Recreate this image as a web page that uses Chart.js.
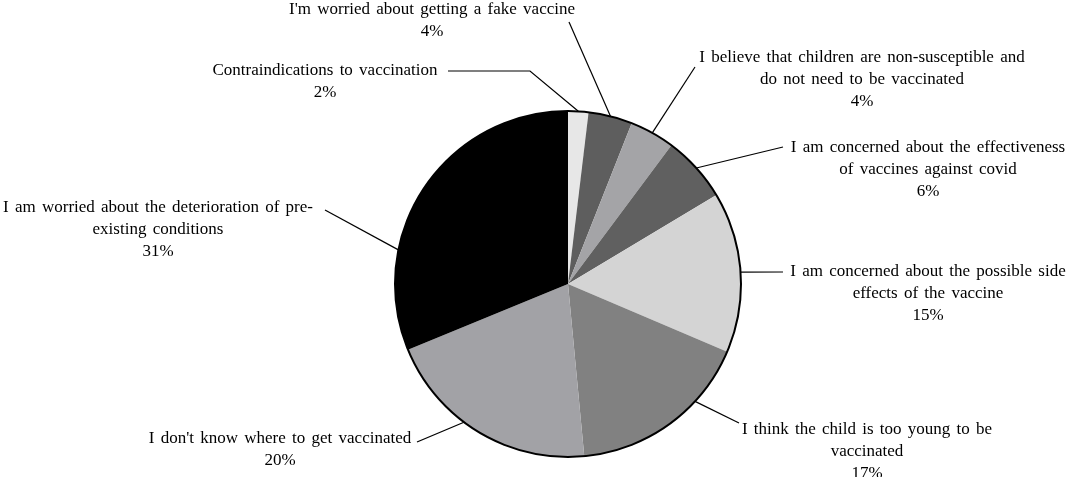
<!DOCTYPE html>
<html>
<head>
<meta charset="utf-8">
<script src="https://cdn.jsdelivr.net/npm/chart.js@4/dist/chart.umd.min.js"></script>
<style>
	html, body { margin: 0; padding: 0; background: #fff; }
	#wrap { width: 1069px; height: 477px; }
</style>
</head>
<body>
<div id="wrap"><canvas id="pie" width="1069" height="477"></canvas></div>
<script>
// categories (wrapped the way the figure wraps them)
var categories = [
	["Contraindications to vaccination"],
	["I'm worried about getting a fake vaccine"],
	["I believe that children are non-susceptible and", "do not need to be vaccinated"],
	["I am concerned about the effectiveness", "of vaccines against covid"],
	["I am concerned about the possible side", "effects of the vaccine"],
	["I think the child is too young to be", "vaccinated"],
	["I don't know where to get vaccinated"],
	["I am worried about the deterioration of pre-", "existing conditions"]
];
// share of answers, %
var shares = [1.9, 4.1, 4.2, 6.2, 15.0, 17.1, 20.3, 31.2];
var sliceColors = ['#e7e7e7', '#5e5e5e', '#a4a4a7', '#606060', '#d4d4d4', '#818181', '#a2a2a6', '#000000'];

// where each label sits and how its leader line bends (page pixels)
// frac = where along the slice the leader line touches the rim
var labelLayout = [
	{ cx: 325, y: 71, bend: [[448, 71], [530, 71]], frac: 0.5 },
	{ cx: 432, y: 10, bend: [[569, 22]], frac: 0.5 },
	{ cx: 862, y: 58, bend: [[695, 67]], frac: 0.5 },
	{ cx: 928, y: 148, bend: [[783, 147]], frac: 0.5 },
	{ cx: 928, y: 272, bend: [[783, 272]], frac: 0.5 },
	{ cx: 867, y: 430, bend: [[739, 423]], frac: 0.32 },
	{ cx: 280, y: 439, bend: [[417, 442]], frac: 0.58 },
	{ cx: 158, y: 208, bend: [[325, 210]], frac: 0.3 }
];

var lineGap = 22;

var pieDecor = {
	id: 'pieDecor',
	afterDatasetsDraw: function(chart) {
		var ctx = chart.ctx;
		var arcs = chart.getDatasetMeta(0).data;
		if (!arcs.length) return;
		var cx = arcs[0].x, cy = arcs[0].y, r = arcs[0].outerRadius;

		// outer rim only
		ctx.save();
		ctx.beginPath();
		ctx.arc(cx, cy, r, 0, Math.PI * 2);
		ctx.lineWidth = 2;
		ctx.strokeStyle = '#000';
		ctx.stroke();
		ctx.restore();

		ctx.save();
		ctx.font = '17px "Liberation Serif", "Times New Roman", serif';
		if ('wordSpacing' in ctx) ctx.wordSpacing = '2px';
		ctx.fillStyle = '#000';
		ctx.strokeStyle = '#000';
		ctx.lineWidth = 1.2;
		ctx.textAlign = 'center';
		ctx.textBaseline = 'middle';

		arcs.forEach(function(arc, i) {
			var lay = labelLayout[i];
			var a = arc.startAngle + lay.frac * (arc.endAngle - arc.startAngle);
			var ex = cx + Math.cos(a) * r, ey = cy + Math.sin(a) * r;

			// leader line
			ctx.beginPath();
			ctx.moveTo(lay.bend[0][0], lay.bend[0][1]);
			for (var k = 1; k < lay.bend.length; k++) ctx.lineTo(lay.bend[k][0], lay.bend[k][1]);
			ctx.lineTo(ex, ey);
			ctx.stroke();

			// text
			var lines = chart.data.labels[i].slice();
			lines.push(Math.round(chart.data.datasets[0].data[i]) + '%');
			lines.forEach(function(t, j) {
				ctx.fillText(t, lay.cx, lay.y + j * lineGap);
			});
		});
		ctx.restore();
	}
};

new Chart(document.getElementById('pie'), {
	type: 'pie',
	data: {
		labels: categories,
		datasets: [{
			data: shares,
			backgroundColor: sliceColors,
			borderWidth: 0
		}]
	},
	options: {
		responsive: false,
		animation: false,
		layout: {
			padding: { left: 395, right: 328, top: 111, bottom: 20 }
		},
		plugins: {
			legend: { display: false },
			tooltip: { enabled: false }
		}
	},
	plugins: [pieDecor]
});
</script>
</body>
</html>
